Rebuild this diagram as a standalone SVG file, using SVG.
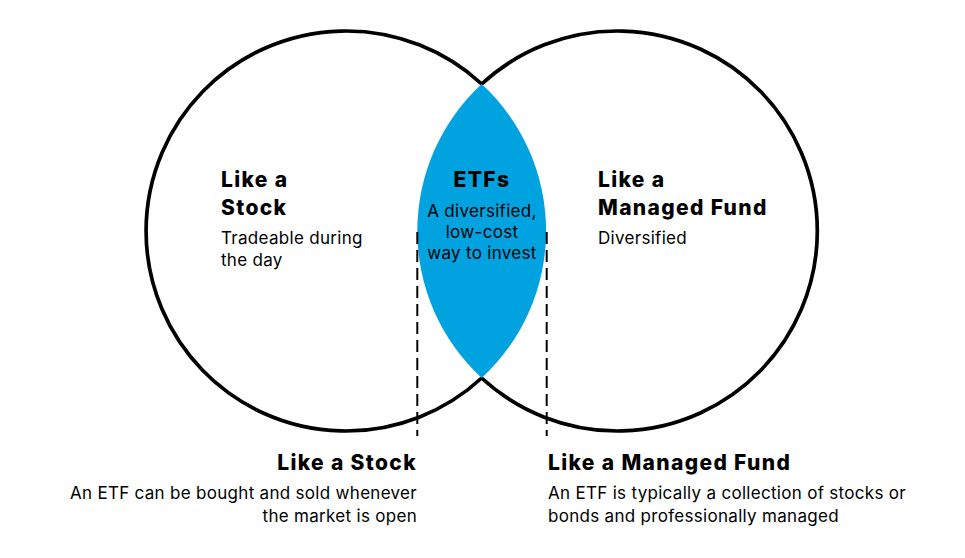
<svg xmlns="http://www.w3.org/2000/svg" width="965" height="558" viewBox="0 0 965 558">
<style>
.h{font-family:Inter,"Liberation Sans",sans-serif;font-weight:800;font-size:21px;letter-spacing:1.35px;fill:#000}
.t{font-family:Inter,"Liberation Sans",sans-serif;font-weight:400;font-size:17px;letter-spacing:0.3px;fill:#000}
.c{fill:none;stroke:#000;stroke-width:3.7}
.d{fill:none;stroke:#000;stroke-width:2;stroke-dasharray:12,6}
</style>
<rect width="965" height="558" fill="#fff"/>
<g id="etfs">
<path d="M481.7,84 A200,200 0 0,1 481.7,378 A200,200 0 0,1 481.7,84 Z" fill="#00A3E0"/>
<text class="h" x="482" y="187" text-anchor="middle">ETFs</text>
<text class="t" text-anchor="middle"><tspan x="482" y="217">A diversified,</tspan><tspan x="482" y="238">low-cost</tspan><tspan x="482" y="259">way to invest</tspan></text>
</g>
<g id="left-circle">
<path class="c" d="M481.7,84 A200,200 0 1,0 481.7,378"/>
<text class="h"><tspan x="221" y="187">Like a</tspan><tspan x="221" y="215">Stock</tspan></text>
<text class="t"><tspan x="221" y="244">Tradeable during</tspan><tspan x="221" y="266">the day</tspan></text>
</g>
<g id="right-circle">
<path class="c" d="M481.7,84 A200,200 0 1,1 481.7,378"/>
<text class="h"><tspan x="598" y="187">Like a</tspan><tspan x="598" y="215">Managed Fund</tspan></text>
<text class="t"><tspan x="598" y="244">Diversified</tspan></text>
</g>
<g id="connectors">
<line class="d" x1="417.3" y1="232" x2="417.3" y2="436"/>
<line class="d" x1="546.7" y1="232" x2="546.7" y2="436"/>
</g>
<g id="stock-note">
<text class="h" x="417" y="470" text-anchor="end">Like a Stock</text>
<text class="t" text-anchor="end"><tspan x="417" y="499">An ETF can be bought and sold whenever</tspan><tspan x="417" y="522">the market is open</tspan></text>
</g>
<g id="fund-note">
<text class="h" x="548" y="470">Like a Managed Fund</text>
<text class="t"><tspan x="548" y="499">An ETF is typically a collection of stocks or</tspan><tspan x="548" y="522">bonds and professionally managed</tspan></text>
</g>
</svg>
